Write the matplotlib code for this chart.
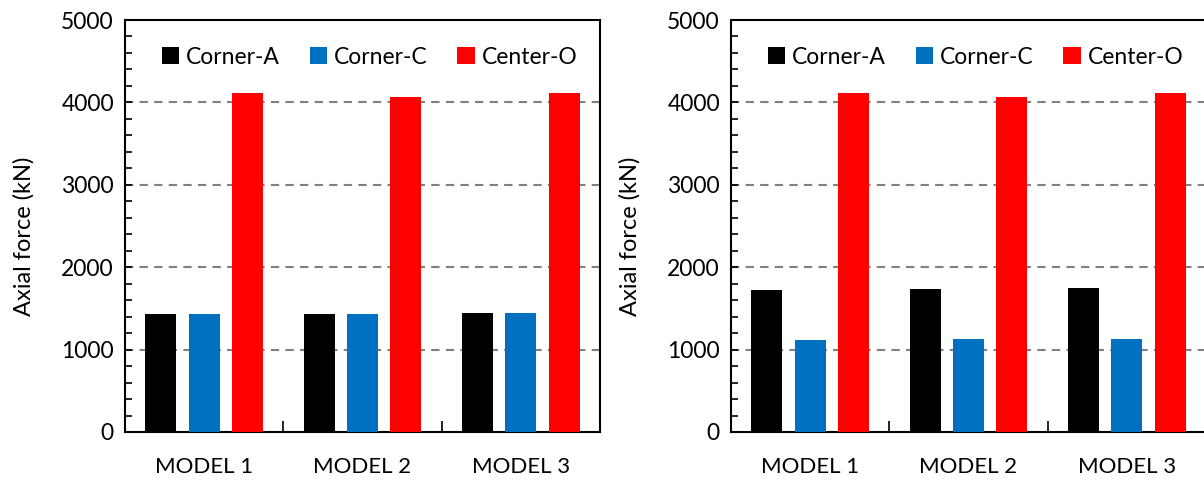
import matplotlib
matplotlib.use("Agg")
import matplotlib.pyplot as plt
import numpy as np
from matplotlib.patches import Patch
from matplotlib.ticker import MultipleLocator

plt.rcParams['font.family'] = ['Lato', 'DejaVu Sans']

models = ["MODEL 1", "MODEL 2", "MODEL 3"]
series = ["Corner-A", "Corner-C", "Center-O"]
colors = ["#000000", "#0070C0", "#FF0000"]

left_corner_a = [1426, 1430, 1442]
left_corner_c = [1426, 1430, 1442]
left_center_o = [4117, 4068, 4109]

right_corner_a = [1726, 1738, 1750]
right_corner_c = [1118, 1126, 1130]
right_center_o = [4117, 4068, 4109]

fig = plt.figure(figsize=(12.04, 4.8), dpi=100)
ax1 = fig.add_axes([125/1204, 48/480, 475/1204, 412/480])
ax2 = fig.add_axes([731/1204, 48/480, 475/1204, 412/480])

def draw(ax, data):
    x = np.arange(len(models))
    offs = [-0.274, 0.0, 0.274]
    w = 0.195
    for vals, off, c in zip(data, offs, colors):
        ax.bar(x + off, vals, width=w, color=c, zorder=3)
    ax.set_xlim(-0.5, 2.5)
    ax.set_ylim(0, 5000)
    ax.yaxis.set_major_locator(MultipleLocator(1000))
    ax.yaxis.set_minor_locator(MultipleLocator(200))
    for yv in [1000, 2000, 3000, 4000]:
        ax.axhline(yv, color="#808080", lw=1.5, ls=(0, (4, 3)), zorder=1)
    ax.set_xticks([0.5, 1.5])
    ax.set_xticklabels([])
    ax.set_xticks(x, minor=True)
    ax.set_xticklabels(models, minor=True)
    ax.tick_params(axis="x", which="major", direction="in", length=8, width=1.2)
    ax.tick_params(axis="x", which="minor", length=0, pad=18, labelsize=16)
    ax.tick_params(axis="y", which="major", direction="in", length=5, width=1.2, labelsize=16.5, pad=8)
    ax.tick_params(axis="y", which="minor", direction="in", length=5, width=1.2)
    for s in ax.spines.values():
        s.set_linewidth(1.5)
    ax.set_ylabel("Axial force (kN)", fontsize=17)
    ax.yaxis.set_label_coords(-0.19, 0.476)
    handles = [Patch(facecolor=c, label=s) for s, c in zip(series, colors)]
    ax.legend(handles=handles, loc="upper center", bbox_to_anchor=(0.515, 0.985), ncol=3,
              frameon=False, fontsize=16.5, handlelength=0.75, handleheight=0.75,
              handletextpad=0.3, columnspacing=1.3)

draw(ax1, [left_corner_a, left_corner_c, left_center_o])
draw(ax2, [right_corner_a, right_corner_c, right_center_o])

fig.savefig("out.png", dpi=100)
